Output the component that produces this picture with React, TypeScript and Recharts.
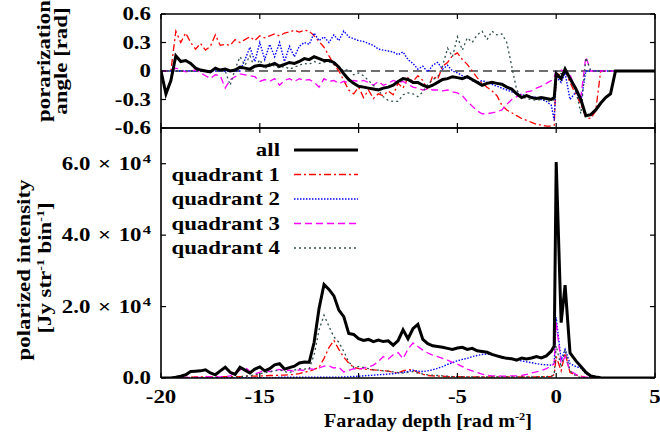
import React from 'react';
import { LineChart, Line, XAxis, YAxis, ReferenceLine, Legend } from 'recharts';

// Faraday depth grid [rad m^-2], denser near the 0 peak
const depth = [
  -20, -19.75, -19.5, -19.25, -19, -18.75, -18.5, -18.25,
  -18, -17.75, -17.5, -17.25, -17, -16.75, -16.5, -16.25,
  -16, -15.75, -15.5, -15.25, -15, -14.75, -14.5, -14.25,
  -14, -13.75, -13.5, -13.25, -13, -12.75, -12.5, -12.25,
  -12, -11.75, -11.5, -11.25, -11, -10.75, -10.5, -10.25,
  -10, -9.75, -9.5, -9.25, -9, -8.75, -8.5, -8.25,
  -8, -7.75, -7.5, -7.25, -7, -6.75, -6.5, -6.25,
  -6, -5.75, -5.5, -5.25, -5, -4.75, -4.5, -4.25,
  -4, -3.75, -3.5, -3.25, -3, -2.75, -2.5, -2.25,
  -2, -1.75, -1.5, -1.25, -1, -0.75, -0.5, -0.25,
  -0.1, 0, 0.25, 0.45, 0.7,
  1, 1.25, 1.5, 1.75, 2, 2.25, 2.5, 2.75,
  3, 3.25, 3.5, 3.75, 4, 4.25, 4.5, 4.75, 5,
];

// polarization angle [rad]
const angleAll = [
  0, -0.24, -0.1, 0.16, 0.1, 0.11, 0.08, 0.03,
  0.01, 0.0, -0.01, 0.03, 0.01, 0.02, 0.0, 0.01,
  0.04, 0.03, 0.02, 0.05, 0.06, 0.05, 0.06, 0.08,
  0.05, 0.07, 0.09, 0.08, 0.1, 0.13, 0.12, 0.15,
  0.13, 0.11, 0.11, 0.09, 0.04, -0.03, -0.09, -0.13,
  -0.16, -0.17, -0.18, -0.19, -0.2, -0.18, -0.17, -0.15,
  -0.11, -0.08, -0.09, -0.12, -0.12, -0.15, -0.17, -0.15,
  -0.12, -0.09, -0.08, -0.06, -0.07, -0.08, -0.06, -0.09,
  -0.12, -0.15, -0.13, -0.12, -0.13, -0.14, -0.17, -0.19,
  -0.24, -0.28, -0.26, -0.28, -0.29, -0.28, -0.29, -0.3,
  -0.28, -0.03, -0.08, 0.02, -0.08,
  -0.19, -0.3, -0.47, -0.46, -0.41, -0.34, -0.28, -0.24,
  0, 0, 0, 0, 0, 0, 0, 0, 0,
];
const angleQ1 = [
  0, 0, 0, 0.42, 0.3, 0.4, 0.3, 0.23,
  0.29, 0.22, 0.26, 0.38, 0.27, 0.28, 0.27, 0.33,
  0.3, 0.33, 0.36, 0.32, 0.37, 0.35, 0.37, 0.39,
  0.37, 0.4, 0.41, 0.43, 0.41, 0.43, 0.42, 0.37,
  0.31, 0.25, 0.16, 0.07, 0.0, -0.1, -0.2, -0.24,
  -0.17, -0.28, -0.2, -0.29, -0.24, -0.26, -0.21, -0.25,
  -0.13, -0.18, -0.07, -0.11, -0.05, -0.1, -0.2, -0.05,
  -0.09, 0.05, 0.09, 0.16, 0.19, 0.12, 0.07, 0.0,
  -0.07, -0.13, -0.17, -0.21, -0.26, -0.36, -0.41, -0.44,
  -0.47, -0.5, -0.52, -0.54, -0.56, -0.57, -0.58, -0.58,
  -0.57, -0.02, -0.05, 0.01, -0.12,
  -0.25, -0.35, -0.49, -0.5, -0.42, 0, 0, 0,
  0, 0, 0, 0, 0, 0, 0, 0, 0,
];
const angleQ2 = [
  0, 0, 0, 0, 0, 0, 0, 0,
  0, 0, 0, 0, 0, 0, 0, 0,
  0, 0.12, 0.25, 0.1, 0.3, 0.12, 0.28, 0.15,
  0.3, 0.1, 0.26, 0.15, 0.26, 0.3, 0.28, 0.4,
  0.32, 0.36, 0.3, 0.38, 0.32, 0.42, 0.36, 0.34,
  0.32, 0.31, 0.29, 0.27, 0.23, 0.22, 0.21, 0.2,
  0.17, 0.2, 0.12, 0.08, 0.02, 0.05, -0.01, 0.06,
  0.09, 0.02, 0.06, 0.0, -0.02, -0.05, -0.07, -0.1,
  -0.12, -0.1, -0.12, -0.14, -0.16, -0.18, -0.2, -0.22,
  -0.23, -0.25, -0.26, -0.27, -0.28, -0.3, -0.32, -0.36,
  -0.52, -0.06, -0.12, -0.02, -0.3,
  -0.22, -0.32, 0, 0, 0, 0, 0, 0,
  0, 0, 0, 0, 0, 0, 0, 0, 0,
];
const angleQ3 = [
  0, 0, 0, 0.03, 0.01, -0.01, 0.0, 0.01,
  -0.02, -0.05, -0.08, -0.04, -0.05, -0.18, -0.09, -0.06,
  -0.03, -0.04, -0.05, -0.06, -0.11, -0.09, -0.11, -0.08,
  -0.15, -0.1, -0.08, -0.11, -0.08, -0.1, -0.09, -0.12,
  -0.17, -0.08, -0.11, -0.1, -0.13, -0.11, -0.12, -0.1,
  -0.11, -0.1, -0.12, -0.15, -0.11, -0.15, -0.13, -0.1,
  -0.12, -0.11, -0.14, -0.17, -0.18, -0.2, -0.19, -0.2,
  -0.2, -0.21, -0.2, -0.22, -0.23, -0.26, -0.32, -0.37,
  -0.42, -0.45, -0.45, -0.44, -0.43, -0.41, -0.35, -0.3,
  -0.27, -0.25, -0.22, -0.21, -0.18, -0.16, -0.13, -0.1,
  -0.06, 0.0, 0.01, -0.01, -0.04,
  -0.2, -0.27, 0.15, 0, 0, 0, 0, 0,
  0, 0, 0, 0, 0, 0, 0, 0, 0,
];
const angleQ4 = [
  0, 0, 0, 0, 0, 0, 0, 0,
  0, 0, 0, 0, 0, 0, -0.15, 0.02,
  0.15, 0.06, 0.16, 0.03, 0.12, 0.02, 0.08, 0.05,
  0.03, 0.05, 0.02, 0.04, 0.06, 0.08, 0.07, 0.1,
  0.08, 0.09, 0.1, 0.07, 0.04, 0.0, 0.02, -0.04,
  -0.02, -0.05, -0.1, -0.15, -0.2, -0.27, -0.31, -0.32,
  -0.32, -0.25, -0.23, -0.24, -0.27, -0.22, -0.14, -0.09,
  -0.06, 0.05, 0.24, 0.15, 0.36, 0.22, 0.35, 0.3,
  0.38, 0.42, 0.33, 0.42, 0.38, 0.39, 0.3, 0.05,
  -0.2, -0.27, -0.29, -0.3, -0.31, -0.3, -0.31, -0.32,
  -0.3, 0.0, -0.03, 0.0, -0.06,
  -0.2, -0.45, 0.14, 0, 0, 0, 0, 0,
  0, 0, 0, 0, 0, 0, 0, 0, 0,
];

// polarized intensity [10^3 Jy str^-1 bin^-1]
const intensityAll = [
  0, 0, 0, 0.2, 0.5, 0.9, 1.8, 1.9,
  2.0, 2.3, 1.4, 0.9, 2.0, 3.0, 1.6, 1.0,
  3.0, 2.2, 1.4, 2.5, 3.1, 2.0, 2.6, 3.7,
  4.0, 2.5, 2.9, 3.3, 4.2, 4.5, 4.4, 10,
  19.5, 26.2, 24.8, 23, 19, 17.2, 12.5, 12.2,
  11, 10.5, 10.8, 10.2, 10.6, 10.2, 10.4, 9.2,
  10.5, 13.5, 11, 13.8, 15, 10.8, 9.6, 9.0,
  8.8, 8.6, 8.3, 8.0, 8.4, 8.6, 8.0, 8.3,
  7.6, 7.4, 7.2, 6.6, 6.2, 5.8, 5.5, 5.4,
  5.0, 5.6, 5.3, 5.6, 6.0, 5.6, 6.2, 7.5,
  9, 60.5, 15.5, 26, 7,
  4.8, 3.2, 1.6, 0.6, 0.3, 0.1, 0, 0,
  0, 0, 0, 0, 0, 0, 0, 0, 0,
];
const intensityQ1 = [
  0.1, 0.1, 0.1, 0.1, 0.2, 0.2, 0.2, 0.3,
  0.3, 0.3, 0.3, 0.3, 0.4, 0.4, 0.4, 0.4,
  0.4, 0.5, 0.5, 0.5, 0.6, 0.6, 0.7, 0.7,
  0.8, 0.8, 0.9, 1.0, 1.2, 1.6, 1.9, 2.4,
  3.0, 5.5, 8.5, 10.5, 8.0, 5.8, 4.2, 3.0,
  2.6, 2.5, 2.4, 2.3, 2.2, 2.0, 1.9, 1.6,
  1.4, 2.0, 2.4, 2.2, 1.6, 1.0, 0.7, 0.6,
  0.5, 0.5, 0.4, 0.4, 0.4, 0.4, 0.3, 0.3,
  0.3, 0.3, 0.3, 0.3, 0.3, 0.3, 0.3, 0.3,
  0.3, 0.3, 0.3, 0.3, 0.3, 0.4, 0.4, 0.4,
  1.0, 6.0, 2.0, 7.0, 1.5,
  0.8, 0.5, 0.2, 0.1, 0, 0, 0, 0,
  0, 0, 0, 0, 0, 0, 0, 0, 0,
];
const intensityQ2 = [
  0, 0, 0, 0, 0, 0, 0, 0,
  0, 0, 0, 0, 0, 0, 0, 0,
  0.1, 0.1, 0.1, 0.1, 0.1, 0.1, 0.1, 0.1,
  0.2, 0.2, 0.2, 0.2, 0.2, 0.2, 0.2, 0.2,
  0.2, 0.2, 0.2, 0.2, 0.2, 0.3, 0.3, 0.4,
  0.5, 0.6, 0.7, 0.8, 0.9, 1.0, 1.1, 1.2,
  1.4, 1.6, 1.8, 2.2, 1.9, 1.8, 2.0, 2.3,
  2.7, 3.2, 3.8, 4.3, 4.8, 5.2, 5.5, 6.0,
  6.3, 6.6, 6.7, 6.5, 6.2, 5.9, 5.6, 5.3,
  5.0, 4.8, 4.5, 4.3, 4.0, 3.8, 3.7, 3.6,
  4.0, 17, 5, 8, 4,
  3.2, 2.8, 1.2, 0.3, 0, 0, 0, 0,
  0, 0, 0, 0, 0, 0, 0, 0, 0,
];
const intensityQ3 = [
  0.1, 0.1, 0.1, 0.1, 0.2, 0.2, 0.2, 0.2,
  0.2, 0.3, 0.3, 0.3, 0.3, 0.4, 0.6, 1.5,
  2.2, 3.0, 1.8, 1.2, 1.6, 2.3, 1.8, 2.1,
  2.4, 2.0, 2.2, 1.8, 2.3, 2.1, 2.6, 2.4,
  2.8, 3.3, 3.4, 2.8, 3.0, 1.7, 2.1, 2.6,
  2.4, 2.8, 3.1, 3.6, 4.6, 6.0, 5.3, 6.5,
  7.1, 5.4, 8.1, 9.8, 8.8, 7.8, 7.0, 6.4,
  6.0, 5.5, 5.0, 4.4, 3.9, 3.2, 2.5, 2.0,
  1.5, 1.1, 0.8, 0.6, 0.6, 0.5, 0.5, 0.6,
  0.6, 0.7, 1.0, 1.4, 1.7, 2.1, 2.6, 3.4,
  4.0, 15.5, 4.0, 6.0, 2.0,
  1.0, 0.4, 0.2, 0.1, 0, 0, 0, 0,
  0, 0, 0, 0, 0, 0, 0, 0, 0,
];
const intensityQ4 = [
  0, 0, 0, 0, 0, 0, 0, 0,
  0, 0, 0, 0.1, 0.1, 0.1, 0.2, 0.2,
  0.3, 0.5, 0.6, 0.9, 1.2, 1.5, 1.7, 2.0,
  2.3, 1.8, 1.5, 2.2, 2.6, 2.5, 2.6, 6.5,
  13.5, 17.6, 14.5, 11.5, 10.0, 7.5, 4.5, 3.0,
  3.2, 3.0, 2.6, 2.3, 2.2, 2.0, 1.9, 1.7,
  1.5, 1.4, 1.6, 1.8, 1.4, 1.1, 0.9, 0.8,
  0.7, 0.6, 0.5, 0.4, 0.4, 0.4, 0.3, 0.3,
  0.3, 0.3, 0.3, 0.3, 0.3, 0.3, 0.3, 0.3,
  0.3, 0.3, 0.3, 0.3, 0.3, 0.4, 0.4, 0.5,
  1.0, 9.0, 3.0, 8.0, 2.0,
  0.5, 0.1, 0, 0, 0, 0, 0, 0,
  0, 0, 0, 0, 0, 0, 0, 0, 0,
];

const depthTicks = [-20, -15, -10, -5, 0, 5];
const angleTicks = [-0.6, -0.3, 0, 0.3, 0.6];
const intensityTicks = [0, 20, 40, 60];

const SERIES = [
  { key: 'all', name: 'all', color: '#000000', width: 3, dash: undefined as string | undefined },
  { key: 'q1', name: 'quadrant 1', color: '#ff0000', width: 1.3, dash: '7 3 2 3' },
  { key: 'q2', name: 'quadrant 2', color: '#0000ff', width: 1.4, dash: '1.5 1.5' },
  { key: 'q3', name: 'quadrant 3', color: '#ff00ff', width: 1.3, dash: '7 4' },
  { key: 'q4', name: 'quadrant 4', color: '#2f4f4f', width: 1.3, dash: '2 3' },
];

const angleData = depth.map((x, i) => ({
  x, all: angleAll[i], q1: angleQ1[i], q2: angleQ2[i], q3: angleQ3[i], q4: angleQ4[i],
}));
const intensityData = depth.map((x, i) => ({
  x, all: intensityAll[i], q1: intensityQ1[i], q2: intensityQ2[i], q3: intensityQ3[i], q4: intensityQ4[i],
}));

const FONT = "'Liberation Serif', 'Times New Roman', Times, serif";
const SX = 1.27; // the original lettering is stretched sideways
const txt = { fontFamily: FONT, fontWeight: 700, fontSize: 18, fill: '#000' };
const axisLine = { stroke: '#000', strokeWidth: 1.6 };
const tickLine = { stroke: '#000', strokeWidth: 1.2 };

const EmptyTick = () => <g />;

const DepthTick = ({ x, y, payload }: any) => (
  <text {...txt} transform={`translate(${x},${y + 25}) scale(${SX},1)`} textAnchor="middle">
    {payload.value}
  </text>
);

const AngleTick = ({ x, y, payload }: any) => (
  <text {...txt} transform={`translate(${x},${y + 6}) scale(${SX},1)`} textAnchor="end">
    {String(payload.value)}
  </text>
);

const IntensityTick = ({ x, y, payload }: any) => {
  const v = payload.value;
  return (
    <text {...txt} transform={`translate(${x},${y + 6}) scale(${SX},1)`} textAnchor="end">
      {v === 0 ? '0.0' : (
        <>
          <tspan>{(v / 10).toFixed(1)}</tspan>
          <tspan dx={6}>{'\u00d7'}</tspan>
          <tspan dx={6}>10</tspan>
          <tspan dy={-7} dx={1} fontSize={13}>4</tspan>
        </>
      )}
    </text>
  );
};

const AngleTitle = () => (
  <g>
    <text {...txt} transform={`translate(50,61) rotate(-90) scale(${SX},1)`} textAnchor="middle">porarization</text>
    <text {...txt} transform={`translate(67,61) rotate(-90) scale(${SX},1)`} textAnchor="middle">angle [rad]</text>
  </g>
);

const IntensityTitle = () => (
  <g>
    <text {...txt} transform={`translate(30,270) rotate(-90) scale(${SX},1)`} textAnchor="middle">polarized intensity</text>
    <text {...txt} transform={`translate(51,268) rotate(-90) scale(${SX},1)`} textAnchor="middle">
      <tspan>[Jy str</tspan>
      <tspan dy={-7} fontSize={11}>-1</tspan>
      <tspan dy={7}> bin</tspan>
      <tspan dy={-7} fontSize={11}>-1</tspan>
      <tspan dy={7}>]</tspan>
    </text>
  </g>
);

const DepthTitle = () => (
  <text {...txt} transform="translate(428,427) scale(1.12,1)" textAnchor="middle">
    <tspan>Faraday depth [rad m</tspan>
    <tspan dy={-7} fontSize={11}>-2</tspan>
    <tspan dy={7}>]</tspan>
  </text>
);

const renderLegend = (props: any) => {
  const payload: any[] = props.payload || [];
  const rows = SERIES.map((s) => ({ s, entry: payload.find((p) => p.dataKey === s.key) })).filter((r) => r.entry);
  return (
    <svg width={230} height={124}>
      {rows.map(({ s, entry }, i) => {
        const cy = 12 + i * 24.5;
        return (
          <g key={s.key}>
            <text {...txt} transform={`translate(130,${cy + 6}) scale(${SX},1)`} textAnchor="end">{entry.value}</text>
            <line x1={144} x2={208} y1={cy} y2={cy} stroke={s.color} strokeWidth={s.width} strokeDasharray={s.dash} />
          </g>
        );
      })}
    </svg>
  );
};

const renderLines = () =>
  [...SERIES.slice(1), SERIES[0]].map((s) => (
    <Line
      key={s.key}
      type="linear"
      dataKey={s.key}
      name={s.name}
      stroke={s.color}
      strokeWidth={s.width}
      strokeDasharray={s.dash}
      dot={false}
      activeDot={false}
      isAnimationActive={false}
    />
  ));

export default function App() {
  return (
    <div style={{ position: 'absolute', left: 0, top: 0, width: 660, height: 441, background: '#fff' }}>
      <div style={{ position: 'absolute', left: 0, top: 0 }}>
        <LineChart width={660} height={441} data={intensityData} margin={{ top: 127, right: 4, bottom: 0, left: 0 }}>
          <XAxis dataKey="x" type="number" domain={[-20, 5]} ticks={depthTicks} allowDataOverflow
            height={63} tick={DepthTick} tickSize={-5} tickMargin={5} axisLine={axisLine} tickLine={tickLine}
            label={<DepthTitle />} />
          <XAxis xAxisId="mirror" orientation="top" dataKey="x" type="number" domain={[-20, 5]} ticks={depthTicks}
            allowDataOverflow height={1} tick={EmptyTick} tickSize={-5} axisLine={axisLine} tickLine={tickLine} />
          <YAxis type="number" domain={[0, 70]} ticks={intensityTicks} allowDataOverflow width={161}
            tick={IntensityTick} tickSize={-5} tickMargin={15} axisLine={axisLine} tickLine={tickLine}
            label={<IntensityTitle />} />
          <YAxis yAxisId="mirror" orientation="right" type="number" domain={[0, 70]} ticks={intensityTicks}
            allowDataOverflow width={1} tick={EmptyTick} tickSize={-5} axisLine={axisLine} tickLine={tickLine} />
          <Legend layout="vertical" align="center" verticalAlign="middle" content={renderLegend}
            wrapperStyle={{ left: 150, top: 138, width: 230, height: 124 }} />
          {renderLines()}
        </LineChart>
      </div>
      <div style={{ position: 'absolute', left: 0, top: 0 }}>
        <LineChart width={660} height={145} data={angleData} margin={{ top: 13, right: 4, bottom: 15, left: 0 }}>
          <XAxis dataKey="x" type="number" domain={[-20, 5]} ticks={depthTicks} allowDataOverflow
            height={2} tick={EmptyTick} tickSize={-5} axisLine={axisLine} tickLine={tickLine} />
          <XAxis xAxisId="mirror" orientation="top" dataKey="x" type="number" domain={[-20, 5]} ticks={depthTicks}
            allowDataOverflow height={1} tick={EmptyTick} tickSize={-5} axisLine={axisLine} tickLine={tickLine} />
          <YAxis type="number" domain={[-0.6, 0.6]} ticks={angleTicks} allowDataOverflow width={161}
            tick={AngleTick} tickSize={-5} tickMargin={15} axisLine={axisLine} tickLine={tickLine}
            label={<AngleTitle />} />
          <YAxis yAxisId="mirror" orientation="right" type="number" domain={[-0.6, 0.6]} ticks={angleTicks}
            allowDataOverflow width={1} tick={EmptyTick} tickSize={-5} axisLine={axisLine} tickLine={tickLine} />
          <ReferenceLine y={0} stroke="#404040" strokeWidth={1.5} strokeDasharray="9 5" />
          {renderLines()}
        </LineChart>
      </div>
    </div>
  );
}
